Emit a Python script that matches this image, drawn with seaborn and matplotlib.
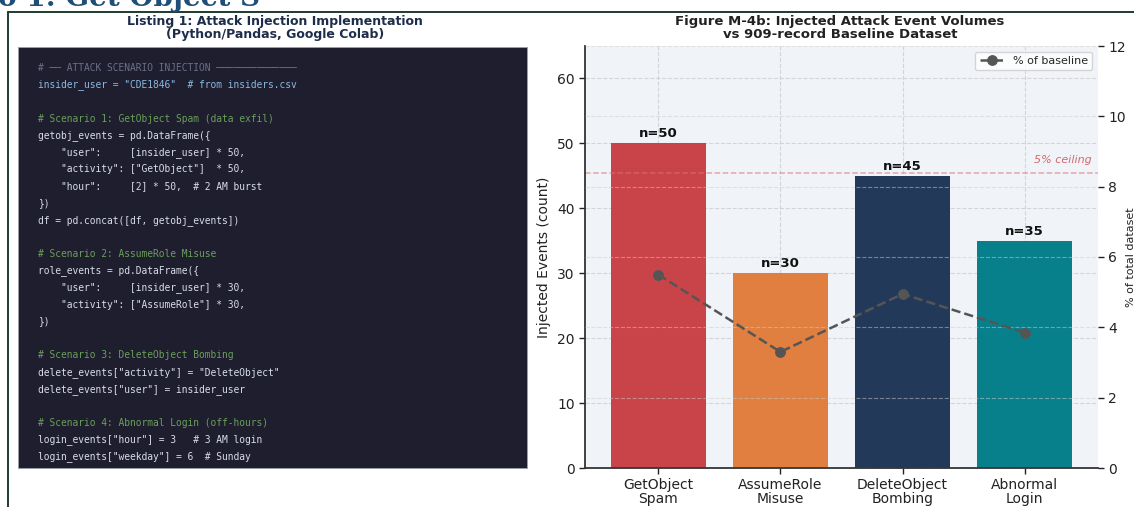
import numpy as np
import pandas as pd
import matplotlib
matplotlib.use("Agg")
import matplotlib.pyplot as plt
from matplotlib.patches import Rectangle
from matplotlib.lines import Line2D
import seaborn as sns

# ---------------- data ----------------
categories = ["GetObject\nSpam", "AssumeRole\nMisuse", "DeleteObject\nBombing", "Abnormal\nLogin"]
counts = [50, 30, 45, 35]
baseline_records = 909
pct_of_baseline = [c / baseline_records * 100 for c in counts]
ceiling_pct = 5
bar_colors = ["#c83e42", "#e07b39", "#1b3354", "#007c89"]
left_ticks = [0, 10, 20, 30, 40, 50, 60]
right_ticks = [0, 2, 4, 6, 8, 10, 12]

code_lines = [
    ("# \u2500\u2500 ATTACK SCENARIO INJECTION \u2500\u2500\u2500\u2500\u2500\u2500\u2500\u2500\u2500\u2500\u2500\u2500\u2500\u2500", "hdr"),
    ('insider_user = "CDE1846"  # from insiders.csv', "blue"),
    ("", "code"),
    ("# Scenario 1: GetObject Spam (data exfil)", "cmt"),
    ("getobj_events = pd.DataFrame({", "code"),
    ('    "user":     [insider_user] * 50,', "code"),
    ('    "activity": ["GetObject"]  * 50,', "code"),
    ('    "hour":     [2] * 50,  # 2 AM burst', "code"),
    ("})", "code"),
    ("df = pd.concat([df, getobj_events])", "code"),
    ("", "code"),
    ("# Scenario 2: AssumeRole Misuse", "cmt"),
    ("role_events = pd.DataFrame({", "code"),
    ('    "user":     [insider_user] * 30,', "code"),
    ('    "activity": ["AssumeRole"] * 30,', "code"),
    ("})", "code"),
    ("", "code"),
    ("# Scenario 3: DeleteObject Bombing", "cmt"),
    ('delete_events["activity"] = "DeleteObject"', "code"),
    ('delete_events["user"] = insider_user', "code"),
    ("", "code"),
    ("# Scenario 4: Abnormal Login (off-hours)", "cmt"),
    ('login_events["hour"] = 3   # 3 AM login', "code"),
    ('login_events["weekday"] = 6  # Sunday', "code"),
]
code_colors = {"hdr": "#6c7086", "blue": "#8cb8e0", "cmt": "#6a9f5a", "code": "#d8dce8"}

# ---------------- figure ----------------
sns.set_theme(style="whitegrid")
plt.rcParams["font.family"] = ["DejaVu Sans"]

W, H = 1134, 507
fig = plt.figure(figsize=(W / 100, H / 100), dpi=100)
fig.patch.set_facecolor("white")

def fx(px):
    return px / W

def fy(py):
    return 1 - py / H

# document frame + cropped heading
fig.add_artist(Line2D([fx(8), fx(1134)], [fy(12), fy(12)], color="#1d3b2e", lw=1.4))
fig.add_artist(Line2D([fx(8), fx(8)], [fy(12), fy(507)], color="#1d3b2e", lw=1.4))
fig.text(fx(260), fy(6), "Scenario 1: Get Object S", ha="right", va="baseline",
         fontsize=20, fontweight="bold", family="DejaVu Serif", color="#1f4e79")

# ---------------- code panel ----------------
fig.text(fx(275), fy(28), "Listing 1: Attack Injection Implementation\n(Python/Pandas, Google Colab)",
         ha="center", va="center", fontsize=9, fontweight="bold", color="#1e2d4a",
         linespacing=1.05)
fig.add_artist(Rectangle((fx(18), fy(468)), fx(509), 421 / H, transform=fig.transFigure,
                         facecolor="#1e1e2e", edgecolor="#9aa0aa", lw=0.6))
y0 = 68
step = 16.9
for i, (txt, kind) in enumerate(code_lines):
    if not txt:
        continue
    fig.text(fx(38), fy(y0 + i * step), txt, ha="left", va="center",
             fontsize=6.9, family="DejaVu Sans Mono", color=code_colors[kind])

# ---------------- chart ----------------
ax = fig.add_axes([fx(585), fy(468), fx(1098 - 585), (468 - 46) / H])
ax.set_facecolor("#f0f4f8")
df = pd.DataFrame({"scenario": categories, "count": counts})
sns.barplot(data=df, x="scenario", y="count", hue="scenario", palette=bar_colors,
            legend=False, width=0.78, saturation=1, alpha=0.97, linewidth=0, ax=ax)
ax.set_xlim(-0.6, 3.6)
ax.set_ylim(0, 65)
ax.set_yticks(left_ticks)
ax.set_xlabel("")
ax.set_ylabel("Injected Events (count)", fontsize=10, color="#222222")
ax.grid(True, linestyle="--", color="#cccccc", lw=0.8, alpha=0.8)
ax.tick_params(axis="both", labelsize=10, colors="#222222", length=4, width=1, left=True, bottom=True)
for lab in ax.get_xticklabels():
    lab.set_linespacing(0.95)
for s in ["top", "right"]:
    ax.spines[s].set_visible(False)
for s in ["left", "bottom"]:
    ax.spines[s].set_color("#333333")
    ax.spines[s].set_linewidth(1.3)

ceiling_count = baseline_records * ceiling_pct / 100
ax.axhline(ceiling_count, color="#e07070", ls="--", lw=1.1, alpha=0.6, zorder=1.5)
ax.text(3.55, ceiling_count + 1.2, f"{ceiling_pct}% ceiling", ha="right", va="bottom",
        fontsize=8, style="italic", color="#d05050", alpha=0.85)

for i, c in enumerate(counts):
    ax.text(i, c + 0.5, f"n={c}", ha="center", va="bottom", fontsize=9.5, fontweight="bold",
            color="#111111")

ax2 = ax.twinx()
sns.lineplot(x=np.arange(len(counts)), y=pct_of_baseline, ax=ax2, color="#555555",
             linestyle="--", lw=1.8, marker="o", markersize=7, markeredgecolor="#555555",
             label="% of baseline")
ax2.set_ylim(0, 12)
ax2.set_yticks(right_ticks)
ax2.set_xlim(-0.6, 3.6)
ax2.set_ylabel("% of total dataset", fontsize=8, color="#222222")
ax2.yaxis.set_label_coords(1.055, 0.5)
ax2.tick_params(axis="y", labelsize=10, colors="#222222", length=4, width=1, right=True)
ax2.grid(True, axis="both", linestyle="--", color="#cccccc", lw=0.8, alpha=0.5)
for s in ["top", "right", "left", "bottom"]:
    ax2.spines[s].set_visible(False)
ax2.legend(loc="upper right", fontsize=8, frameon=True, facecolor="white",
           edgecolor="#cccccc", handlelength=2.2)

fig.text(fx(840), fy(28), "Figure M-4b: Injected Attack Event Volumes\nvs 909-record Baseline Dataset",
         ha="center", va="center", fontsize=9.5, fontweight="bold", color="#222222",
         linespacing=1.05)

fig.savefig("out.png", dpi=100)
